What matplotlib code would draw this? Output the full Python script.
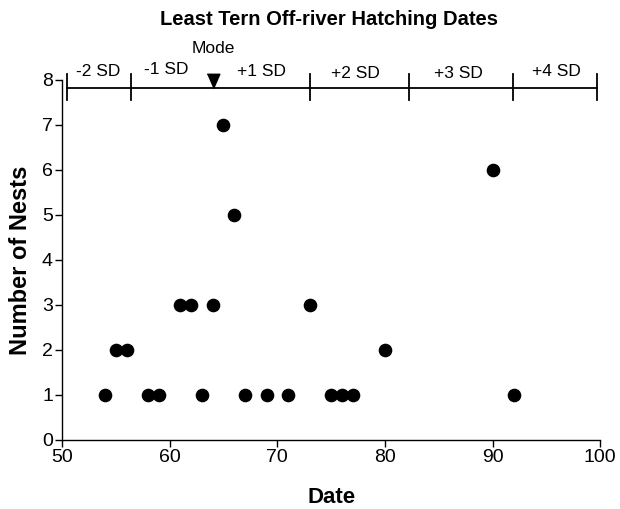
import matplotlib
matplotlib.use("Agg")
import matplotlib.pyplot as plt

plt.rcParams['font.family'] = ['Liberation Sans', 'DejaVu Sans']

# nest counts by hatching date
dates = [54, 55, 56, 58, 59, 61, 62, 63, 64, 65, 66, 67, 69, 71, 73, 75, 76, 77, 80, 90, 92]
nests = [1, 2, 2, 1, 1, 3, 3, 1, 3, 7, 5, 1, 1, 1, 3, 1, 1, 1, 2, 6, 1]

# standard deviation bands along the top
sd_bounds = [50.5, 56.4, 73.05, 82.2, 91.9, 99.7]
sd_labels = ['-2 SD', '-1 SD', '+1 SD', '+2 SD', '+3 SD', '+4 SD']
sd_label_x = [53.4, 59.7, 68.5, 77.3, 86.8, 95.9]
sd_label_y = [8.09, 8.14, 8.08, 8.05, 8.05, 8.09]
mode_date = 64

fig = plt.figure(figsize=(6.2, 5.09), dpi=100)
ax = fig.add_axes([0.1, 0.1356, 0.868, 0.7074])

ax.plot(dates, nests, 'o', color='black', markersize=8.8, clip_on=False)

# SD bar with end ticks
bar_y = 7.81
ax.plot([sd_bounds[0], sd_bounds[-1]], [bar_y, bar_y], color='black', lw=1.3, clip_on=False)
for b in sd_bounds:
    ax.plot([b, b], [bar_y - 0.26, bar_y + 0.32], color='black', lw=1.3, clip_on=False)
for lab, lx, ly in zip(sd_labels, sd_label_x, sd_label_y):
    ax.text(lx, ly, lab, ha='center', va='baseline', fontsize=12.5, clip_on=False)

# mode marker: downward triangle sitting on the bar
tri = [(-0.875, 1), (0.875, 1), (0, -1)]
ax.plot(mode_date, bar_y + 0.16, marker=tri, color='black', markersize=10.4, clip_on=False)
ax.text(mode_date + 0.1, 8.59, 'Mode', ha='center', va='baseline', fontsize=12.5)

ax.set_xlim(50, 100)
ax.set_ylim(0, 8)
ax.set_xticks([50, 60, 70, 80, 90, 100])
ax.set_yticks(range(0, 9))
ax.spines['top'].set_visible(False)
ax.spines['right'].set_visible(False)
ax.spines['left'].set_linewidth(1.0)
ax.spines['bottom'].set_linewidth(1.0)
ax.tick_params(direction='out', length=5, width=1.0, labelsize=14, pad=1.5)

fig.text(332 / 620, 1 - 503 / 509, 'Date', ha='center', va='baseline',
         fontsize=16, fontweight='bold')
fig.text(27 / 620, 1 - 260 / 509, 'Number of Nests', ha='center', va='baseline',
         rotation=90, rotation_mode='anchor', fontsize=17, fontweight='bold')
fig.text(329 / 620, 1 - 25 / 509, 'Least Tern Off-river Hatching Dates', ha='center',
         va='baseline', fontsize=14.5, fontweight='bold')

fig.savefig('out.png', dpi=100)
